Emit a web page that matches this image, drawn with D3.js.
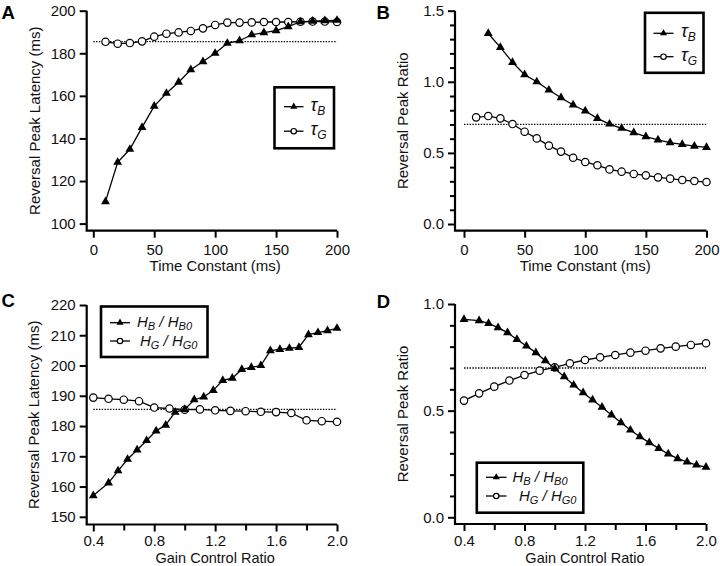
<!DOCTYPE html>
<html>
<head>
<meta charset="utf-8">
<script src="https://cdn.jsdelivr.net/npm/d3@7"></script>
<style>
  html, body { margin: 0; padding: 0; background: #fff; }
  svg { display: block; font-family: "Liberation Sans", Arial, Helvetica, sans-serif; }
</style>
</head>
<body>
<svg id="chart" width="720" height="566"></svg>
<script>
// ---------------- DATA ----------------
const timeConst = [10, 20, 30, 40, 50, 60, 70, 80, 90, 100, 110, 120, 130, 140, 150, 160, 170, 180, 190, 200];
const timeConstFrom20 = [20, 30, 40, 50, 60, 70, 80, 90, 100, 110, 120, 130, 140, 150, 160, 170, 180, 190, 200];

const latencyTauB = [110.3, 128.8, 134.9, 145.2, 155.2, 161.2, 166.4, 172.3, 176.1, 180.0, 184.7, 185.9, 188.7, 189.7, 190.6, 192.5, 194.8, 195.1, 195.3, 195.5];
const latencyTauG = [185.4, 184.5, 184.8, 185.6, 187.8, 189.2, 189.8, 190.5, 191.7, 193.3, 194.4, 194.4, 194.5, 194.7, 194.7, 194.7, 194.8, 194.9, 194.9, 194.7];

const ratioTauB = [1.34, 1.242, 1.137, 1.05, 1.0, 0.942, 0.888, 0.837, 0.795, 0.743, 0.703, 0.673, 0.642, 0.614, 0.591, 0.572, 0.56, 0.548, 0.539];
const ratioTauG = [0.75, 0.759, 0.743, 0.703, 0.649, 0.602, 0.551, 0.509, 0.466, 0.436, 0.413, 0.384, 0.368, 0.352, 0.342, 0.328, 0.319, 0.309, 0.302, 0.295];

const gainFine = [0.4, 0.5, 0.5625, 0.625, 0.6875, 0.75, 0.8125, 0.875, 0.9375, 1.0, 1.0625, 1.125, 1.1875, 1.25, 1.3125, 1.375, 1.4375, 1.5, 1.5625, 1.625, 1.6875, 1.75, 1.8125, 1.875, 1.9375, 2.0];
const gainCoarse = [0.4, 0.5, 0.6, 0.7, 0.8, 0.9, 1.0, 1.1, 1.2, 1.3, 1.4, 1.5, 1.6, 1.7, 1.8, 1.9, 2.0];

const latencyHB = [157.0, 161.2, 165.2, 169.0, 172.1, 175.2, 178.4, 180.3, 184.6, 185.5, 188.7, 189.6, 191.8, 195.1, 195.8, 198.7, 199.4, 200.0, 204.9, 205.3, 205.7, 206.0, 210.2, 210.9, 211.5, 212.3];
const latencyHG = [189.4, 189.0, 188.7, 188.2, 186.1, 185.8, 185.4, 185.5, 185.2, 185.0, 184.9, 184.7, 184.6, 184.3, 181.9, 181.6, 181.4];

const ratioHB = [0.928, 0.922, 0.909, 0.889, 0.866, 0.834, 0.803, 0.772, 0.734, 0.698, 0.659, 0.620, 0.584, 0.55, 0.516, 0.48, 0.444, 0.409, 0.378, 0.35, 0.323, 0.297, 0.275, 0.26, 0.245, 0.235];
const ratioHG = [0.547, 0.581, 0.6125, 0.641, 0.667, 0.6875, 0.703, 0.722, 0.7375, 0.75, 0.761, 0.772, 0.781, 0.792, 0.8, 0.808, 0.816];

const refLatency = 185.5;
const refRatio = 0.7;

const timeTicks = [0, 50, 100, 150, 200];
const gainTicks = [0.4, 0.8, 1.2, 1.6, 2.0];
const gainMinorTicks = [0.6, 1.0, 1.4, 1.8];
const latencyTicksA = [100, 120, 140, 160, 180, 200];
const ratioTicksB = [0.0, 0.5, 1.0, 1.5];
const ratioMinorB = [0.1, 0.2, 0.3, 0.4, 0.6, 0.7, 0.8, 0.9, 1.1, 1.2, 1.3, 1.4];
const latencyTicksC = [150, 160, 170, 180, 190, 200, 210, 220];
const ratioTicksD = [0.0, 0.5, 1.0];
const ratioMinorD = [0.1, 0.2, 0.3, 0.4, 0.6, 0.7, 0.8, 0.9];

// ---------------- DRAW ----------------
const svg = d3.select("#chart");
const FONT = 15;

function panel(cfg) {
  const g = svg.append("g");
  const x = d3.scaleLinear().domain(cfg.xDomain).range(cfg.xRange);
  const y = d3.scaleLinear().domain(cfg.yDomain).range(cfg.yRange);

  // y axis
  const ya = g.append("g").attr("transform", `translate(${cfg.axisX},0)`)
    .call(d3.axisLeft(y).tickValues(cfg.yTicks).tickSize(7).tickPadding(4).tickFormat(cfg.yFmt));
  ya.select(".domain").remove();
  ya.selectAll(".tick line").attr("stroke-width", 2);
  ya.selectAll(".tick text").attr("font-size", FONT).attr("font-family", "Liberation Sans, Arial, sans-serif").attr("fill", "#111");
  if (cfg.yMinor) {
    const ym = g.append("g").attr("transform", `translate(${cfg.axisX},0)`)
      .call(d3.axisLeft(y).tickValues(cfg.yMinor).tickSize(5).tickFormat(""));
    ym.select(".domain").remove();
    ym.selectAll(".tick line").attr("stroke-width", 2);
  }
  // x axis
  const xa = g.append("g").attr("transform", `translate(0,${cfg.axisY})`)
    .call(d3.axisBottom(x).tickValues(cfg.xTicks).tickSize(7).tickPadding(cfg.xPad).tickFormat(cfg.xFmt));
  xa.select(".domain").remove();
  xa.selectAll(".tick line").attr("stroke-width", 2);
  xa.selectAll(".tick text").attr("font-size", FONT).attr("font-family", "Liberation Sans, Arial, sans-serif").attr("fill", "#111");
  if (cfg.xMinor) {
    const xm = g.append("g").attr("transform", `translate(0,${cfg.axisY})`)
      .call(d3.axisBottom(x).tickValues(cfg.xMinor).tickSize(6).tickFormat(""));
    xm.select(".domain").remove();
    xm.selectAll(".tick line").attr("stroke-width", 2);
  }
  // L-shaped axis lines
  g.append("path")
    .attr("d", `M${cfg.axisX},${y(cfg.yDomain[1])}V${cfg.axisY}H${x(cfg.xDomain[1])}`)
    .attr("fill", "none").attr("stroke", "#000").attr("stroke-width", 2.2);

  // axis titles
  g.append("text")
    .attr("x", (cfg.xRange[0] + cfg.xRange[1]) / 2)
    .attr("y", cfg.axisY + cfg.xTitleOff)
    .attr("text-anchor", "middle").attr("font-size", cfg.xTitleSize).attr("fill", "#111")
    .text(cfg.xTitle);
  const ymid = (y(cfg.yDomain[1]) + cfg.axisY) / 2;
  g.append("text")
    .attr("transform", `translate(${cfg.yTitleX},${ymid}) rotate(-90)`)
    .attr("dy", "0.35em")
    .attr("text-anchor", "middle").attr("font-size", FONT).attr("fill", "#111")
    .text(cfg.yTitle);

  // panel letter
  g.append("text").attr("x", cfg.letterX).attr("y", cfg.letterY)
    .attr("font-size", 18.5).attr("font-weight", "bold").attr("fill", "#000")
    .text(cfg.letter);

  // reference dotted line
  g.append("line")
    .attr("x1", x(cfg.refX[0])).attr("x2", x(cfg.refX[1]))
    .attr("y1", y(cfg.refY)).attr("y2", y(cfg.refY))
    .attr("stroke", "#000").attr("stroke-width", 1.3).attr("stroke-dasharray", "1.4,1.4");

  const line = d3.line().x(d => x(d[0])).y(d => y(d[1]));

  // circles series (drawn first)
  const cData = cfg.cX.map((v, i) => [v, cfg.cY[i]]);
  g.append("path").attr("d", line(cData)).attr("fill", "none").attr("stroke", "#000").attr("stroke-width", 1.3);
  g.selectAll(null).data(cData).enter().append("circle")
    .attr("cx", d => x(d[0])).attr("cy", d => y(d[1])).attr("r", 3.7)
    .attr("fill", "#fff").attr("stroke", "#000").attr("stroke-width", 1.2);

  // triangle series
  const tData = cfg.tX.map((v, i) => [v, cfg.tY[i]]);
  g.append("path").attr("d", line(tData)).attr("fill", "none").attr("stroke", "#000").attr("stroke-width", 1.3);
  const tri = d3.symbol().type(d3.symbolTriangle).size(34);
  g.selectAll(null).data(tData).enter().append("path")
    .attr("d", tri).attr("transform", d => `translate(${x(d[0])},${y(d[1])})`)
    .attr("fill", "#000");

  // legend
  const L = cfg.legend;
  const lg = g.append("g");
  lg.append("rect").attr("x", L.x).attr("y", L.y).attr("width", L.w).attr("height", L.h)
    .attr("fill", "#fff").attr("stroke", "#000").attr("stroke-width", 2.6);
  const rows = [
    { type: "tri", y: L.row1, text: L.text1, tx: L.tx1 },
    { type: "circ", y: L.row2, text: L.text2, tx: L.tx2 }
  ];
  const triS = d3.symbol().type(d3.symbolTriangle).size(22);
  rows.forEach(r => {
    lg.append("line").attr("x1", L.lx0).attr("x2", L.lx1).attr("y1", r.y).attr("y2", r.y)
      .attr("stroke", "#000").attr("stroke-width", 1.3);
    const mx = (L.lx0 + L.lx1) / 2;
    if (r.type === "tri") {
      lg.append("path").attr("d", triS).attr("transform", `translate(${mx},${r.y})`).attr("fill", "#000");
    } else {
      lg.append("circle").attr("cx", mx).attr("cy", r.y).attr("r", 2.7)
        .attr("fill", "#fff").attr("stroke", "#000").attr("stroke-width", 1.2);
    }
    const t = lg.append("text").attr("x", r.tx).attr("y", r.y + L.baseOff).attr("fill", "#111");
    r.text.forEach(part => {
      const ts = t.append("tspan").text(part.s).attr("font-size", part.size);
      if (part.italic) ts.attr("font-style", "italic");
      if (part.dy) ts.attr("dy", part.dy);
    });
  });
}

const tauText = (sub) => [
  { s: "τ", italic: true, size: 18 },
  { s: sub, italic: true, size: 12, dy: 4 }
];
const hText = (sub) => [
  { s: "H", italic: true, size: 15 },
  { s: sub, italic: true, size: 11, dy: 3 },
  { s: " / ", italic: true, size: 15, dy: -3 },
  { s: "H", italic: true, size: 15 },
  { s: sub + "0", italic: true, size: 11, dy: 3 }
];

// Panel A
panel({
  letter: "A", letterX: 1.5, letterY: 18.5,
  xDomain: [0, 200], xRange: [93.3, 337], yDomain: [100, 200], yRange: [223.6, 10.7],
  axisX: 86.7, axisY: 230.7, xPad: 7,
  xTicks: timeTicks, yTicks: latencyTicksA, xFmt: d3.format("d"), yFmt: d3.format("d"),
  xTitle: "Time Constant (ms)", xTitleOff: 40.5, xTitleSize: 15, yTitle: "Reversal Peak Latency (ms)", yTitleX: 35,
  refX: [0, 200], refY: refLatency,
  tX: timeConst, tY: latencyTauB, cX: timeConst, cY: latencyTauG,
  legend: { x: 274.5, y: 87.3, w: 59.5, h: 61, row1: 106.7, row2: 131.2, lx0: 284, lx1: 303.5,
            tx1: 310.5, tx2: 310.5, baseOff: 4, text1: tauText("B"), text2: tauText("G") }
});

// Panel B
panel({
  letter: "B", letterX: 376.5, letterY: 18.5,
  xDomain: [0, 200], xRange: [464, 706.5], yDomain: [0, 1.5], yRange: [224, 10.7],
  axisX: 455, axisY: 230.7, xPad: 7,
  xTicks: timeTicks, yTicks: ratioTicksB, yMinor: ratioMinorB, xFmt: d3.format("d"), yFmt: d3.format(".1f"),
  xTitle: "Time Constant (ms)", xTitleOff: 40.5, xTitleSize: 15, yTitle: "Reversal Peak Ratio", yTitleX: 403,
  refX: [0, 200], refY: refRatio,
  tX: timeConstFrom20, tY: ratioTauB, cX: timeConst, cY: ratioTauG,
  legend: { x: 645, y: 12.8, w: 58.5, h: 60, row1: 33.3, row2: 56.7, lx0: 653.5, lx1: 673.5,
            tx1: 681, tx2: 681, baseOff: 4, text1: tauText("B"), text2: tauText("G") }
});

// Panel C
panel({
  letter: "C", letterX: 1.5, letterY: 307.3,
  xDomain: [0.4, 2.0], xRange: [93.3, 337], yDomain: [150, 220], yRange: [516.8, 305],
  axisX: 86.7, axisY: 524.5, xPad: 4.2,
  xTicks: gainTicks, xMinor: gainMinorTicks, yTicks: latencyTicksC, xFmt: d3.format(".1f"), yFmt: d3.format("d"),
  xTitle: "Gain Control Ratio", xTitleOff: 38.3, xTitleSize: 14.5, yTitle: "Reversal Peak Latency (ms)", yTitleX: 34,
  refX: [0.4, 2.0], refY: refLatency,
  tX: gainFine, tY: latencyHB, cX: gainCoarse, cY: latencyHG,
  legend: { x: 101, y: 306.5, w: 106.5, h: 50.5, row1: 322.7, row2: 341, lx0: 110, lx1: 130,
            tx1: 137, tx2: 140, baseOff: 4.5, text1: hText("B"), text2: hText("G") }
});

// Panel D
panel({
  letter: "D", letterX: 376.8, letterY: 308.3,
  xDomain: [0.4, 2.0], xRange: [464, 706], yDomain: [0, 1.0], yRange: [517.3, 304],
  axisX: 455, axisY: 524, xPad: 4.7,
  xTicks: gainTicks, xMinor: gainMinorTicks, yTicks: ratioTicksD, yMinor: ratioMinorD, xFmt: d3.format(".1f"), yFmt: d3.format(".1f"),
  xTitle: "Gain Control Ratio", xTitleOff: 38.8, xTitleSize: 14.5, yTitle: "Reversal Peak Ratio", yTitleX: 403,
  refX: [0.4, 2.0], refY: refRatio,
  tX: gainFine, tY: ratioHB, cX: gainCoarse, cY: ratioHG,
  legend: { x: 476.8, y: 462.7, w: 106.5, h: 50, row1: 477.3, row2: 496, lx0: 486, lx1: 506.5,
            tx1: 512.5, tx2: 519, baseOff: 4.5, text1: hText("B"), text2: hText("G") }
});
</script>
</body>
</html>
